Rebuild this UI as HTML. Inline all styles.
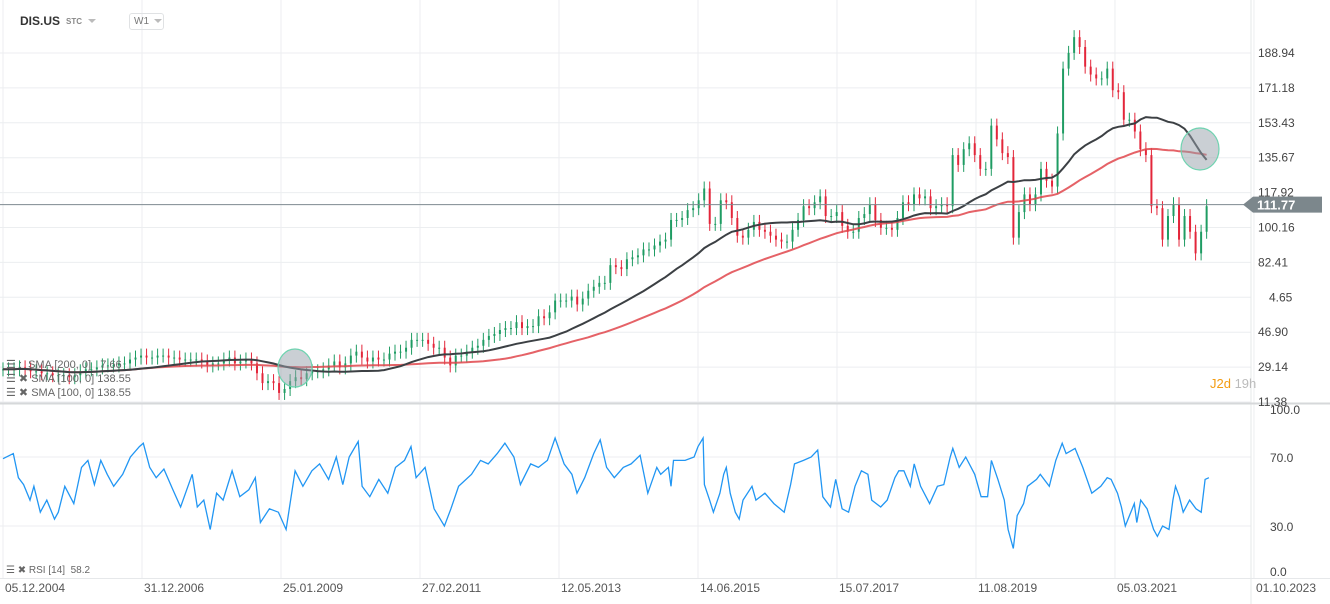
<!DOCTYPE html>
<html><head><meta charset="utf-8">
<style>
body{margin:0;background:#fff;width:1330px;height:604px;overflow:hidden;font-family:"Liberation Sans",sans-serif;}
svg{display:block}
</style></head>
<body>
<svg id="chart" width="1330" height="604" xmlns="http://www.w3.org/2000/svg">
<g id="grid"></g>
<g id="price"></g>
<g id="rsi"></g>
<g id="axes"></g>
</svg>
<script>
const closes=[28,
28,28,29,28,27,27,26,26,25,25,25,24,
25,27,28,28,29,30,30,30,31,31,33,34,
35,34,34,35,35,34,34,33,33,33,33,32,
30,31,31,33,34,31,32,33,31,26,21,22,
21,16,18,22,24,23,26,27,27,28,30,32,
29,31,35,37,34,32,34,33,33,36,37,37,
39,43,43,43,41,39,39,34,30,35,35,37,
39,40,43,45,46,48,49,49,52,49,50,50,
55,54,57,63,63,63,65,61,64,68,70,72,
72,81,80,79,84,85,86,89,89,91,93,94,
104,104,105,109,110,114,120,102,102,114,113,105,
96,95,99,103,99,98,96,94,93,93,99,104,
111,110,113,116,106,106,108,101,98,98,105,107,
112,104,100,100,99,105,113,112,117,115,116,110,
111,112,111,137,132,140,143,137,130,130,152,145,
138,136,95,108,117,112,117,130,124,121,148,181,
189,197,192,182,178,176,176,181,170,169,155,155,
149,140,137,111,110,94,106,112,94,106,98,87,
98,111];
const rsiWeeks=[0,8,12,16,21,24,29,34,40,43,48,55,61,66,71,76,81,86,93,99,106,109,114,119,125,132,138,147,151,156,161,166,171,178,184,191,196,200,207,214,220,227,233,240,246,253,259,264,269,276,279,285,292,299,305,312,317,321,328,335,343,348,354,364,371,377,384,390,397,402,410,416,423,429,436,442,446,452,459,464,469,475,482,488,495,501,508,
511,517,519,521,530,537,540,544,545,549,552,557,560,562,565,569,572,575,582,585,592,599,607,612,615,622,628,633,637,643,647,652,657,662,667,672,675,682,687,693,696,700,705,708,713,720,726,731,736,738,743,748,755,760,765,768,773,778,781,785,788,793,796,803,806,813,818,823,826,833,839,846,853,858,861,866,869,872,879,881,884,889,894,897,901,906,909,911,914,917,922,927,931,934,937];
const rsiValues=[69,72,58,54,45,53,38,45,34,38,53,43,64,68,54,68,60,53,60,70,76,78,64,58,63,51,41,60,41,45,28,49,45,62,47,51,58,32,40,38,28,62,53,62,66,57,70,54,70,79,53,47,57,49,64,68,76,58,64,40,30,40,53,60,68,66,72,78,70,54,66,64,68,81,66,60,49,58,72,80,64,58,64,66,71,49,64,
60,64,53,68,68,70,76,81,54,45,38,49,60,64,49,38,34,45,53,45,49,43,38,54,66,68,70,74,47,41,57,40,38,53,62,60,45,41,45,58,62,62,53,66,53,43,53,54,70,75,64,70,60,47,47,68,57,45,28,17,36,43,53,57,60,53,68,78,72,75,64,49,53,58,57,49,41,30,43,32,45,40,28,24,30,28,45,53,47,38,45,40,38,57,58];
const priceTicks=["188.94","171.18","153.43","135.67","117.92","100.16","82.41","4.65","46.90","29.14","11.38"];
const priceTickVals=[188.94,171.18,153.43,135.67,117.92,100.16,82.41,64.65,46.90,29.14,11.38];
const rsiTicks=[100,70,30,0];
const dateLabels=["05.12.2004","31.12.2006","25.01.2009","27.02.2011","12.05.2013","14.06.2015","15.07.2017","11.08.2019","05.03.2021","01.10.2023"];
const lastPrice=111.77;

const NS="http://www.w3.org/2000/svg";
function mk(tag,attrs,parent){const e=document.createElementNS(NS,tag);for(const k in attrs)e.setAttribute(k,attrs[k]);parent.appendChild(e);return e;}
const xW=w=>3+w*1.287;
const xM=i=>xW(i*4.29);
const yP=p=>53+(188.94-p)*1.9656;
const yR=v=>526-(v-30)*1.725;
const grid=document.getElementById('grid'),price=document.getElementById('price'),rsi=document.getElementById('rsi'),axes=document.getElementById('axes');

dateLabels.forEach((d,k)=>{
  const x=3+k*108*1.287;
  const l=mk('line',{x1:x,x2:x,y1:0,y2:578,stroke:'#eceef0','stroke-width':1},grid);
  
  
  const t=mk('text',{x:x+2,y:592,'font-size':12,fill:'#555'},axes);t.textContent=d;
  
  
});
priceTickVals.forEach((v,k)=>{
  const y=yP(v);
  const l=mk('line',{x1:0,x2:1251,y1:y,y2:y,stroke:'#eceef0','stroke-width':1},grid);
  
  
  const t=mk('text',{x:priceTicks[k].length<5?1269:1258,y:y+4,'font-size':12,fill:'#444'},axes);t.textContent=priceTicks[k];
  
  
});
rsiTicks.forEach(v=>{
  const y=yR(v);
  if(v==70||v==30){const l=mk('line',{x1:0,x2:1251,y1:y,y2:y,stroke:'#eceef0'},grid);
  
  }
  const t=mk('text',{x:1270,y:Math.min(Math.max(y+5,414),576),'font-size':12,fill:'#444'},axes);t.textContent=v.toFixed(1);
  
  
});
mk('line',{x1:1251,x2:1251,y1:0,y2:604,stroke:'#e6e8ea'},grid);
mk('line',{x1:0,x2:1330,y1:403.5,y2:403.5,stroke:'#d6d8da','stroke-width':2},grid);
mk('line',{x1:0,x2:1330,y1:578.5,y2:578.5,stroke:'#e6e8ea'},grid);

const defs=mk('defs',{},price);
const cp=mk('clipPath',{id:'pc'},defs);mk('rect',{x:0,y:0,width:1251,height:402},cp);
const pg=mk('g',{'clip-path':'url(#pc)'},price);

closes.forEach((c,i)=>{
  const o=i?closes[i-1]:c;const x=xM(i);const up=c>=o;
  const col=up?'#1f9c63':'#e3263a';
  const top=yP(Math.max(o,c)),bot=yP(Math.min(o,c));
  const w=mk('line',{x1:x,x2:x,y1:top-7,y2:bot+7,stroke:col,'stroke-width':1},pg);
  
  
  const b=mk('rect',{x:x-1,y:top,width:2,height:Math.max(1,bot-top),fill:col},pg);
  
  
});
function sma(n){return closes.map((c,i)=>{const s=closes.slice(Math.max(0,i-n+1),i+1);return s.reduce((a,b)=>a+b,0)/s.length;});}
const s200=sma(46),s100=sma(23);
const pts=a=>a.map((v,i)=>xM(i).toFixed(1)+','+yP(v).toFixed(1)).join(' ');
const l1=mk('polyline',{points:pts(s200),fill:'none',stroke:'#e0474c','stroke-width':2,opacity:0.85},pg);


const l2=mk('polyline',{points:pts(s100),fill:'none',stroke:'#3c4044','stroke-width':2},pg);


const c1=mk('ellipse',{cx:295,cy:368,rx:17,ry:19,fill:'rgba(150,160,170,0.5)',stroke:'#6fd3b0','stroke-width':1.2},pg);


const c2=mk('ellipse',{cx:1200,cy:149,rx:19,ry:21,fill:'rgba(150,160,170,0.5)',stroke:'#6fd3b0','stroke-width':1.2},pg);



const ly=yP(lastPrice);
const pl=mk('line',{x1:0,x2:1251,y1:ly,y2:ly,stroke:'#7e8a90','stroke-width':1},price);


const pb=mk('path',{d:`M1243 ${ly} L1253 ${ly-8} L1322 ${ly-8} L1322 ${ly+8} L1253 ${ly+8} Z`,fill:'#7c878c'},price);


const pt=mk('text',{x:1257,y:ly+5,'font-size':13,'font-weight':'bold',fill:'#fff'},price);pt.textContent=lastPrice.toFixed(2);

const rp=rsiValues.map((v,i)=>xW(rsiWeeks[i]).toFixed(1)+','+yR(v).toFixed(1)).join(' ');
const rl=mk('polyline',{points:rp,fill:'none',stroke:'#2196f3','stroke-width':1.3},rsi);


</script>
<div style="position:absolute;left:20px;top:14px;font-size:12px;font-weight:bold;color:#333">DIS.US</div>
<div style="position:absolute;left:66px;top:17px;font-size:8px;color:#888;font-weight:bold">STC</div>
<div style="position:absolute;left:88px;top:19px;width:0;height:0;border-left:4px solid transparent;border-right:4px solid transparent;border-top:4px solid #bbb"></div>
<div style="position:absolute;left:129px;top:13px;width:35px;height:17px;border:1px solid #e0e2e4;border-radius:3px;font-size:10px;color:#777;line-height:16px;padding-left:4px;box-sizing:border-box;white-space:nowrap">W1<span style="display:inline-block;width:0;height:0;border-left:4px solid transparent;border-right:4px solid transparent;border-top:4px solid #bbb;margin-left:5px;vertical-align:middle"></span></div>
<div style="position:absolute;left:6px;top:358px;font-size:11px;color:#666;line-height:14px">
<div>☰ :&nbsp; SMA [200, 0] &nbsp;&nbsp;7.66</div>
<div>☰ ✖ SMA [100, 0] 138.55</div>
<div>☰ ✖ SMA [100, 0] 138.55</div>
</div>
<div style="position:absolute;left:6px;top:565px;font-size:10px;color:#666">☰ ✖ RSI [14] &nbsp;58.2</div>
<div style="position:absolute;left:1210px;top:376px;font-size:13px;color:#f39c12">J2d <span style="color:#bbb">19h</span></div>
</body></html>
